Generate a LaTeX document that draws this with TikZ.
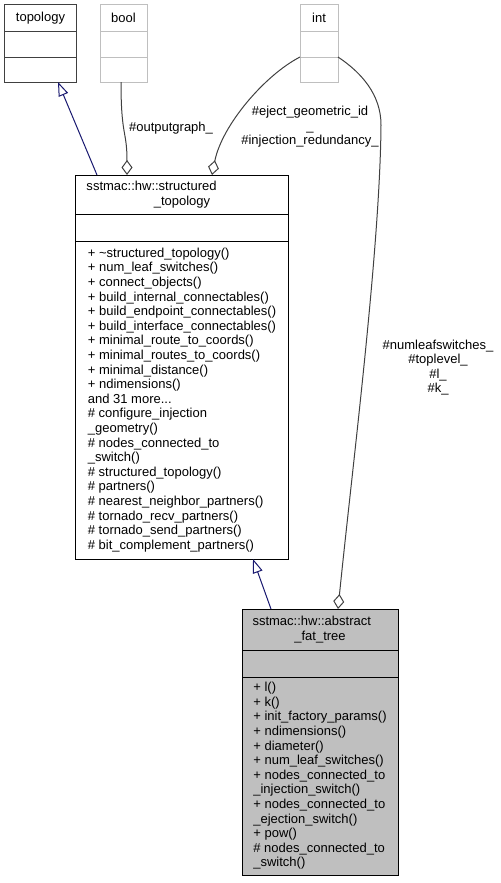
\documentclass[tikz,border=0pt]{standalone}
\usepackage{fontspec}
\setmainfont{Liberation Sans}
\usepackage{xcolor}
\usetikzlibrary{positioning,arrows.meta}
\definecolor{edgegray}{HTML}{404040}
\definecolor{boxgray}{HTML}{BFBFBF}
\definecolor{inhblue}{HTML}{191970}

\begin{document}
\begin{tikzpicture}[
	x = 1bp, y = -1bp, line width = 1bp,
	every node/.style = {font = \fontsize{13bp}{14.6bp}\selectfont},
	part/.style = {draw, rectangle, outer sep = 0pt, inner sep = 0pt},
	dark/.style = {part, draw = edgegray},
	pale/.style = {part, draw = boxgray},
	cur/.style = {part, fill = boxgray},
	hdr/.style = {align = left, inner xsep = 10.5bp},
	members/.style = {align = left},
	inherit/.style = {draw = inhblue, -{Triangle[open, length = 14bp, width = 10bp]}},
	aggr/.style = {draw = edgegray, -{Diamond[open, length = 15bp, width = 11bp]}},
	lbl/.style = {align = center}
	]
	\useasboundingbox (0,0) rectangle (501,883);
	% topology, bool, int
	\node[dark, minimum width = 71bp, minimum height = 26bp] (topoh) at (40.5,18) {topology};
	\node[dark, minimum width = 71bp, minimum height = 26bp, below = 0pt of topoh] (topoa) {};
	\node[dark, minimum width = 71bp, minimum height = 25bp, below = 0pt of topoa] (topom) {};
	\node[pale, minimum width = 47bp, minimum height = 26bp] (boolh) at (123.5,18) {bool};
	\node[pale, minimum width = 47bp, minimum height = 26bp, below = 0pt of boolh] (boola) {};
	\node[pale, minimum width = 47bp, minimum height = 25bp, below = 0pt of boola] (boolm) {};
	\node[pale, minimum width = 38bp, minimum height = 26bp] (inth) at (319,18) {int};
	\node[pale, minimum width = 38bp, minimum height = 26bp, below = 0pt of inth] (inta) {};
	\node[pale, minimum width = 38bp, minimum height = 25bp, below = 0pt of inta] (intm) {};
	% structured topology
	\node[part, hdr, text width = 191bp, minimum height = 39bp] (sth) at (182,194.5)
		{sstmac::hw::structured\\\makebox[191bp]{\_topology}};
	\node[part, minimum width = 212bp, minimum height = 27bp, below = 0pt of sth] (sta) {};
	\node[part, members, minimum width = 212bp, minimum height = 318bp, below = 0pt of sta] (stm)
		{+ \textasciitilde structured\_topology()\\
		+ num\_leaf\_switches()\\
		+ connect\_objects()\\
		+ build\_internal\_connectables()\\
		+ build\_endpoint\_connectables()\\
		+ build\_interface\_connectables()\\
		+ minimal\_route\_to\_coords()\\
		+ minimal\_routes\_to\_coords()\\
		+ minimal\_distance()\\
		+ ndimensions()\\
		and 31 more...\\
		\# configure\_injection\\
		\_geometry()\\
		\# nodes\_connected\_to\\
		\_switch()\\
		\# structured\_topology()\\
		\# partners()\\
		\# nearest\_neighbor\_partners()\\
		\# tornado\_recv\_partners()\\
		\# tornado\_send\_partners()\\
		\# bit\_complement\_partners()};
	% abstract fat tree
	\node[cur, hdr, text width = 135bp, minimum height = 41bp] (afth) at (320,629.5)
		{sstmac::hw::abstract\\\makebox[135bp]{\_fat\_tree}};
	\node[cur, minimum width = 156bp, minimum height = 27bp, below = 0pt of afth] (afta) {};
	\node[cur, members, minimum width = 156bp, minimum height = 198bp, below = 0pt of afta] (aftm)
		{+ l()\\
		+ k()\\
		+ init\_factory\_params()\\
		+ ndimensions()\\
		+ diameter()\\
		+ num\_leaf\_switches()\\
		+ nodes\_connected\_to\\
		\_injection\_switch()\\
		+ nodes\_connected\_to\\
		\_ejection\_switch()\\
		+ pow()\\
		\# nodes\_connected\_to\\
		\_switch()};
	% labels
	\node[lbl] (lout) at (171,128) {\#outputgraph\_};
	\node[lbl] (lint) at (310,127) {\#eject\_geometric\_id\\\_\\\#injection\_redundancy\_};
	\node[lbl] (lleaf) at (438,367.5) {\#numleafswitches\_\\\#toplevel\_\\\#l\_\\\#k\_};
	% edges
	\draw[inherit] ([xshift=-85bp]sth.north) -- ([xshift=17.5bp]topom.south);
	\draw[aggr] ([xshift=-2.5bp]boolm.south) .. controls +(0,55) and +(0,-45) .. ([xshift=-55bp]sth.north);
	\draw[aggr] (inta.south west) .. controls +(-35,18) and +(10,-50) .. ([xshift=30bp]sth.north);
	\draw[aggr] (inta.south east) .. controls +(24,16) and +(0,-30) .. (381,125)
		.. controls +(-1,125) and +(14,-139) .. ([xshift=18bp]afth.north);
	\draw[inherit] ([xshift=-49bp]afth.north) -- ([xshift=71bp]stm.south);
\end{tikzpicture}
\end{document}
